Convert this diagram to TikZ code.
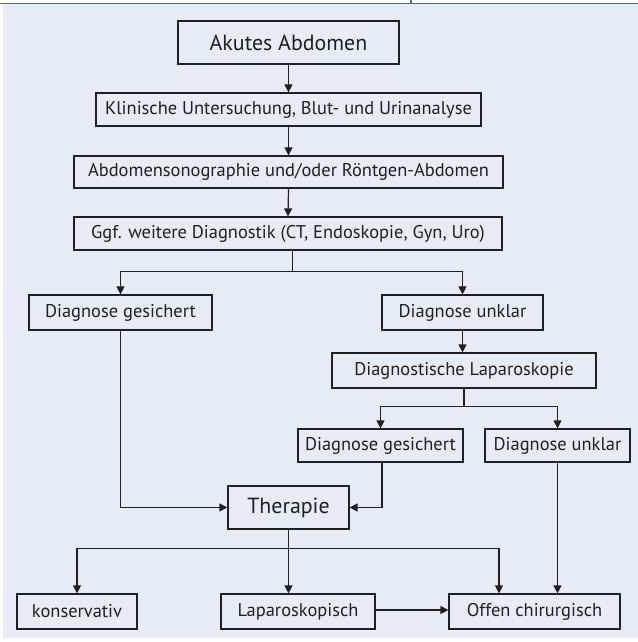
\documentclass[tikz,border=0pt]{standalone}
\usepackage{fontspec}
\setmainfont{PT Sans}
\usetikzlibrary{arrows.meta}
\definecolor{bgblue}{HTML}{E5ECF6}
\definecolor{topblue}{HTML}{2A78BE}
\definecolor{ink}{HTML}{231F20}
\tikzset{
  box/.style={draw=ink, line width=1.2bp, fill=bgblue, inner sep=0pt, text=ink, font=\fontsize{18.5}{21}\selectfont},
  bigbox/.style={box, font=\fontsize{22}{25}\selectfont},
  conn/.style={draw=ink, line width=1.2bp, -{Triangle[length=8bp,width=8bp]}},
  plain/.style={draw=ink, line width=1.2bp}
}
\begin{document}
\begin{tikzpicture}[x=1bp,y=-1bp]
\useasboundingbox (0,0) rectangle (638,642);
\fill[bgblue] (3,4) rectangle (638,638);
\draw[topblue, line width=1.3bp] (0,3.5) -- (638,3.5);
\draw[topblue, line width=1.2bp] (411,0) -- (411,4);

\node[bigbox, minimum width=221bp, minimum height=43bp] (akut) at (288.5,42.5) {Akutes Abdomen};
\node[box, minimum width=385bp, minimum height=33bp] (klin) at (288.5,109.5) {Klinische Untersuchung, Blut- und Urinanalyse};
\node[box, minimum width=429bp, minimum height=32bp] (sono) at (288.5,172) {Abdomensonographie und/oder Röntgen-Abdomen};
\node[box, minimum width=428bp, minimum height=33bp] (ggf) at (288,233.5) {Ggf. weitere Diagnostik (CT, Endoskopie, Gyn, Uro)};
\node[box, minimum width=183bp, minimum height=35bp] (dga) at (120.5,312.5) {Diagnose gesichert};
\node[box, minimum width=161bp, minimum height=35bp] (dua) at (462.5,312.5) {Diagnose unklar};
\node[box, minimum width=264bp, minimum height=35bp] (dl) at (464,370.5) {Diagnostische Laparoskopie};
\node[box, minimum width=165bp, minimum height=33bp] (dgb) at (380.5,445.5) {Diagnose gesichert};
\node[box, minimum width=145bp, minimum height=33bp] (dub) at (557.5,445.5) {Diagnose unklar};
\node[bigbox, minimum width=121bp, minimum height=43bp] (ther) at (288.5,507.5) {Therapie};
\node[box, minimum width=120bp, minimum height=35bp] (kons) at (77,611.5) {konservativ};
\node[box, minimum width=154bp, minimum height=35bp] (lap) at (298,611.5) {Laparoskopisch};
\node[box, minimum width=171bp, minimum height=35bp] (offen) at (534.5,611.5) {Offen chirurgisch};

\draw[conn] (akut.south) -- (klin.north);
\draw[conn] (klin.south) -- (sono.north);
\draw[conn] (sono.south) -- (ggf.north);

\coordinate (gs) at ([xshift=4.5bp]ggf.south);
\draw[plain] (gs) -- ++(0,21) coordinate (gj);
\draw[conn] (gj) -| (dga.north);
\draw[conn] (gj) -| (dua.north);

\draw[conn] (dua.south) -- (dua.south |- dl.north);

\draw[plain] (dl.south) -- ++(0,18) coordinate (dj);
\draw[conn] (dj) -| (dgb.north);
\draw[conn] (dj) -| (dub.north);

\draw[conn] (dga.south) |- (ther.west);
\draw[conn] ([xshift=1.5bp]dgb.south) |- (ther.east);

\draw[plain] (ther.south) -- ++(0,19) coordinate (tj);
\draw[conn] (tj) -| (kons.north);
\draw[conn] (tj) -- (ther.south |- lap.north);
\draw[conn] (tj) -| ([xshift=-35.5bp]offen.north);
\draw[conn] (dub.south) -- (dub.south |- offen.north);
\draw[conn] ([yshift=1.5bp]lap.east) -- ([yshift=1.5bp]offen.west);
\end{tikzpicture}
\end{document}
